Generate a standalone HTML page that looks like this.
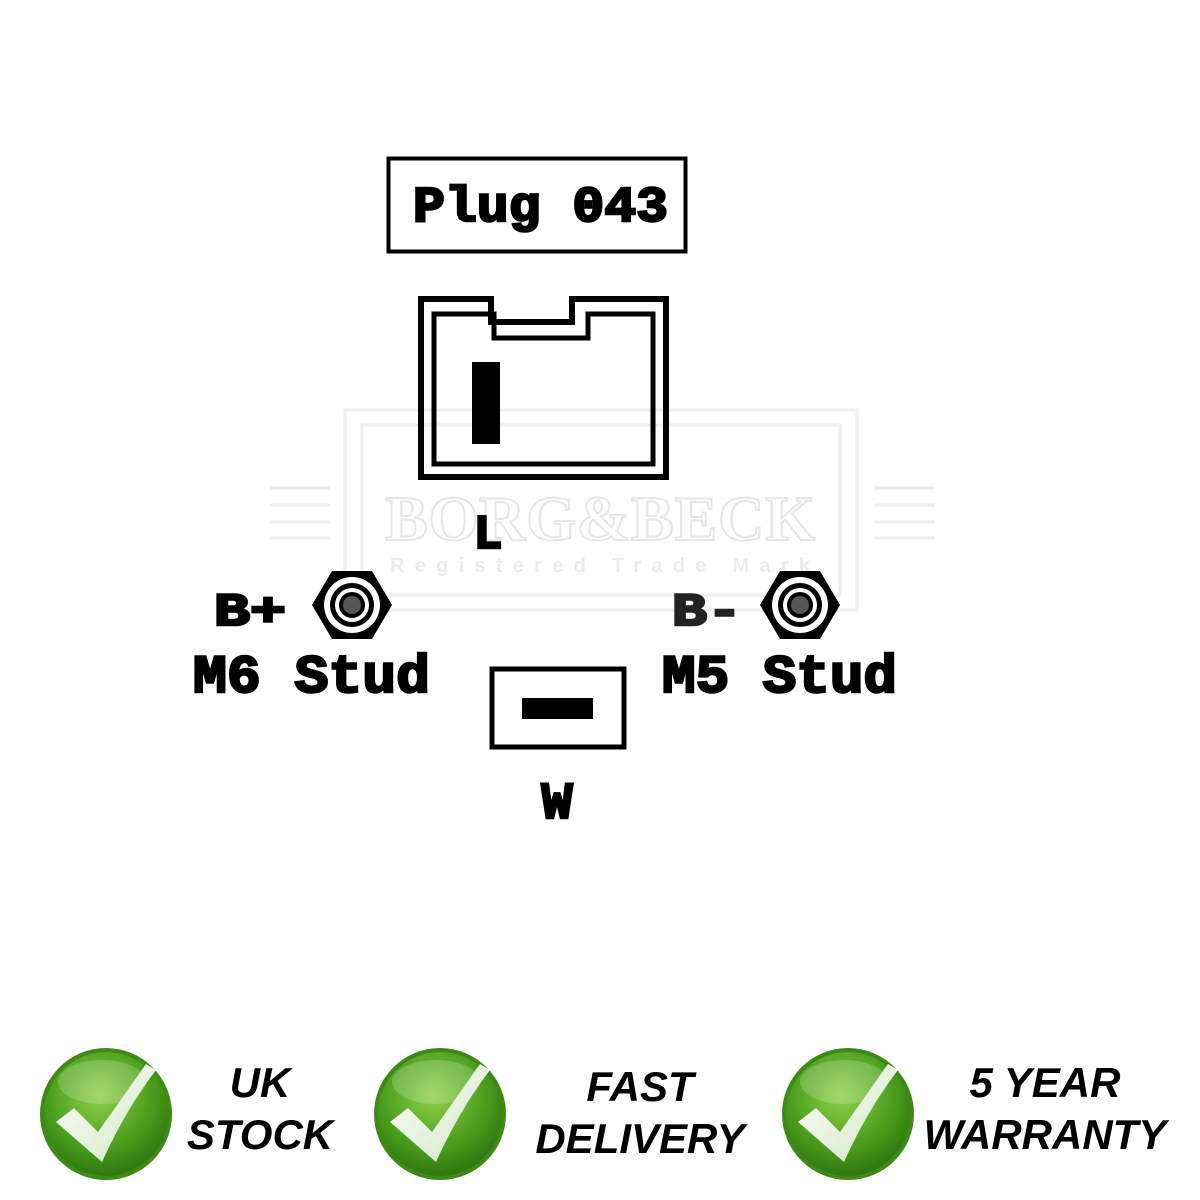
<!DOCTYPE html>
<html><head><meta charset="utf-8"><style>
html,body{margin:0;padding:0;background:#fff;}
svg{display:block;}
</style></head><body>
<svg width="1200" height="1200" viewBox="0 0 1200 1200" xmlns="http://www.w3.org/2000/svg">
<defs>
<radialGradient id="g" cx="45%" cy="35%" r="70%">
<stop offset="0" stop-color="#8fd14a"/><stop offset="0.6" stop-color="#4a9e1c"/><stop offset="1" stop-color="#2c6e0c"/>
</radialGradient>
<linearGradient id="ck" x1="0" y1="0" x2="1" y2="1"><stop offset="0" stop-color="#ffffff"/><stop offset="1" stop-color="#cfe6c0"/></linearGradient>
</defs>
<g fill="none" stroke="#eeeeee" stroke-width="3">
<rect x="345" y="410" width="512" height="200"/>
<rect x="362" y="425" width="478" height="170"/>
<line x1="270" y1="488" x2="330" y2="488"/><line x1="270" y1="505" x2="330" y2="505"/><line x1="270" y1="522" x2="330" y2="522"/><line x1="270" y1="538" x2="330" y2="538"/>
<line x1="875" y1="488" x2="935" y2="488"/><line x1="875" y1="505" x2="935" y2="505"/><line x1="875" y1="522" x2="935" y2="522"/><line x1="875" y1="538" x2="935" y2="538"/>
</g>
<text x="600" y="540" text-anchor="middle" font-family="Liberation Serif,serif" font-weight="bold" font-size="64" fill="none" stroke="#e6e6e6" stroke-width="2" textLength="430">BORG&amp;BECK</text>
<text x="600" y="572" text-anchor="middle" font-family="Liberation Sans,sans-serif" font-weight="bold" font-size="20" fill="#ececec" textLength="420">Registered Trade Mark</text>

<rect x="388.5" y="158.5" width="297" height="93" fill="none" stroke="#000" stroke-width="4"/>
<g font-family="Liberation Mono,monospace" font-weight="bold" stroke="#000" stroke-width="2.5" fill="#000">
<text x="413" y="221" font-size="50" textLength="255" lengthAdjust="spacingAndGlyphs">Plug 043</text>
<text x="488" y="548" text-anchor="middle" font-size="48">L</text>
<text x="214" y="625" font-size="46" textLength="72" lengthAdjust="spacingAndGlyphs">B+</text>
<text x="672" y="625" font-size="46" fill="#222" stroke="#222" textLength="70" lengthAdjust="spacingAndGlyphs">B-</text>
<text x="193" y="692" font-size="54" textLength="237" lengthAdjust="spacingAndGlyphs">M6 Stud</text>
<text x="662" y="692" font-size="54" textLength="235" lengthAdjust="spacingAndGlyphs">M5 Stud</text>
<text x="557" y="818" text-anchor="middle" font-size="52">W</text>
</g>

<path d="M421,299 H491 V322 H572 V299 H666 V477 H421 Z" fill="none" stroke="#000" stroke-width="6"/>
<path d="M434,314 H494 V338 H588 V314 H653 V464 H434 Z" fill="none" stroke="#000" stroke-width="5"/>
<rect x="472" y="362" width="28" height="82" fill="#000"/>

<g transform="translate(352,605)">
<polygon points="-20,-34 20,-34 40,0 20,34 -20,34 -40,0" fill="#000"/>
<circle r="28" fill="#fff"/><circle r="22" fill="#000"/><circle r="17" fill="#fff"/><circle r="13" fill="#000"/><circle r="9" fill="#555"/>
</g>
<g transform="translate(800,605)">
<polygon points="-20,-34 20,-34 40,0 20,34 -20,34 -40,0" fill="#000"/>
<circle r="28" fill="#fff"/><circle r="22" fill="#000"/><circle r="17" fill="#fff"/><circle r="13" fill="#000"/><circle r="9" fill="#555"/>
</g>

<rect x="492" y="669" width="132" height="78" fill="none" stroke="#000" stroke-width="5"/>
<rect x="522" y="698" width="71" height="21" fill="#000"/>

<g transform="translate(106,1114)">
<circle r="66" fill="#3f8a17"/><circle r="62" fill="url(#g)"/>
<ellipse cx="-4" cy="-32" rx="44" ry="22" fill="#fff" opacity="0.18"/>
<path d="M-50,8 L-32,-6 L-8,18 L40,-50 L50,-44 Q20,-5 -4,48 Z" fill="url(#ck)"/>
</g>
<g transform="translate(440,1114)">
<circle r="66" fill="#3f8a17"/><circle r="62" fill="url(#g)"/>
<ellipse cx="-4" cy="-32" rx="44" ry="22" fill="#fff" opacity="0.18"/>
<path d="M-50,8 L-32,-6 L-8,18 L40,-50 L50,-44 Q20,-5 -4,48 Z" fill="url(#ck)"/>
</g>
<g transform="translate(848,1114)">
<circle r="66" fill="#3f8a17"/><circle r="62" fill="url(#g)"/>
<ellipse cx="-4" cy="-32" rx="44" ry="22" fill="#fff" opacity="0.18"/>
<path d="M-50,8 L-32,-6 L-8,18 L40,-50 L50,-44 Q20,-5 -4,48 Z" fill="url(#ck)"/>
</g>
<g font-family="Liberation Sans,sans-serif" font-weight="bold" font-style="italic" font-size="42" text-anchor="middle" fill="#000">
<text x="260" y="1097">UK</text>
<text x="260" y="1149">STOCK</text>
<text x="640" y="1101">FAST</text>
<text x="640" y="1153">DELIVERY</text>
<text x="1045" y="1097">5 YEAR</text>
<text x="1045" y="1149">WARRANTY</text>
</g>
</svg>
</body></html>
